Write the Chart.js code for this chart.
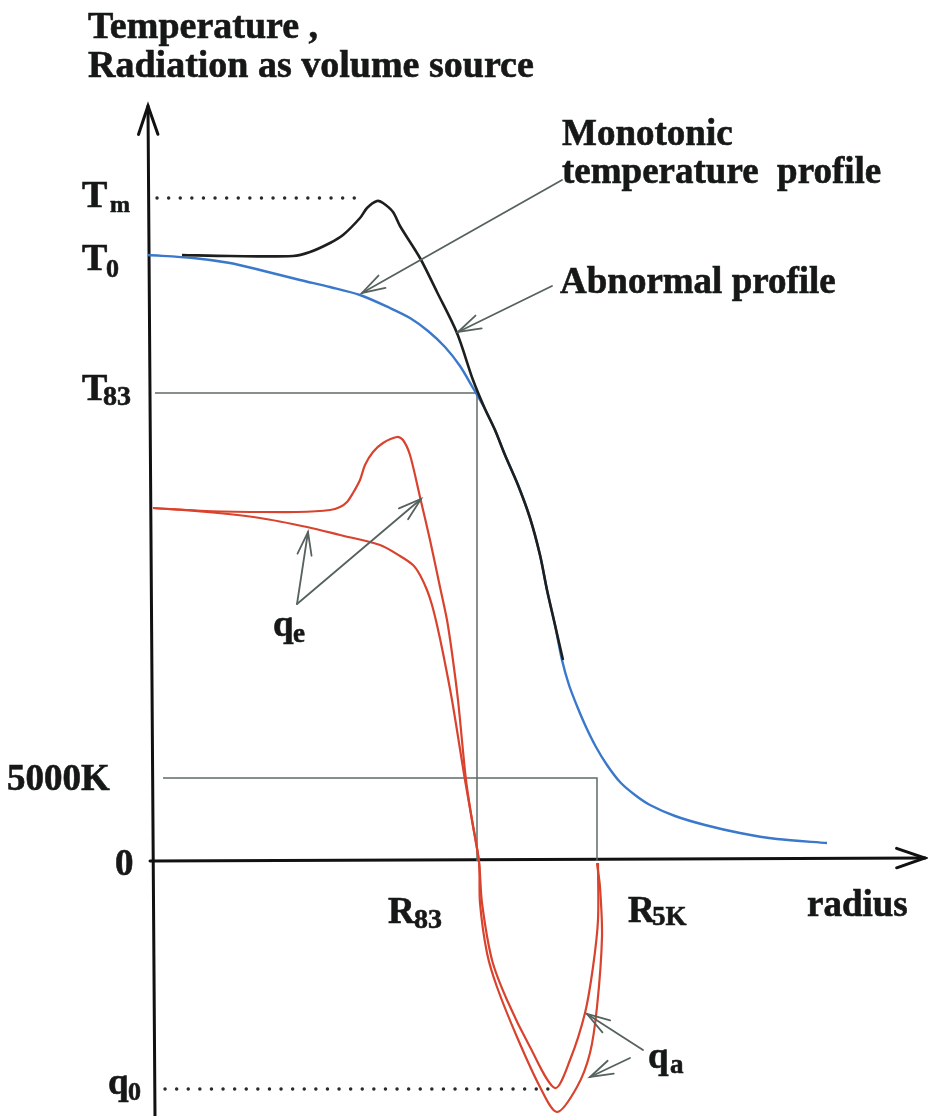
<!DOCTYPE html>
<html>
<head>
<meta charset="utf-8">
<script src="https://cdn.jsdelivr.net/npm/chart.js@4.4.1/dist/chart.umd.min.js"></script>
<style>
  html, body { margin: 0; padding: 0; background: #fff; }
  #wrap { width: 928px; height: 1116px; }
</style>
</head>
<body>
<div id="wrap"><canvas id="myChart" width="928" height="1116"></canvas></div>
<script>
"use strict";

// levels on the vertical axis (sketch units)
const T_M = 663;
const T_0 = 606;
const T_83 = 468;
const T_5K = 83;
const Q_0 = -228;

// radii on the horizontal axis
const R_83 = 327;
const R_5K = 447;

// curves, [radius, value]
const monotonicT = [
  [-2, 606], [43, 603], [80, 598], [110, 591], [150, 581], [180, 574],
  [210, 566], [240, 553], [260, 543], [278, 530], [295, 514], [310, 495],
  [323, 473], [335, 452], [345, 431], [355, 406], [368, 376], [380, 343],
  [390, 306], [397, 271], [405, 236], [412, 201], [419, 176], [427, 155],
  [436, 134], [446, 114], [457, 96], [470, 79], [485, 66], [500, 56],
  [525, 45], [555, 36], [590, 28], [627, 22], [677, 18]
];

const abnormalT = [
  [32, 606], [80, 605], [143, 605], [160, 609], [180, 618], [193, 626],
  [210, 643], [217, 653], [227, 660], [233, 658], [243, 649], [250, 635],
  [270, 603], [287, 569], [307, 528], [323, 481], [335, 452], [345, 431],
  [355, 406], [368, 376], [380, 343], [390, 306], [397, 271], [405, 236],
  [413, 201]
];

const qeAbnormal = [
  [3, 353], [57, 350], [110, 349], [147, 349], [180, 351], [190, 354],
  [197, 359], [203, 368], [210, 381], [215, 396], [223, 409], [233, 418],
  [247, 424], [253, 421], [260, 406], [270, 364], [280, 321], [290, 274],
  [297, 241], [302, 208], [308, 161], [316, 81], [322, 41], [329, -1],
  [332, -42], [342, -99], [357, -139], [380, -186], [405, -227],
  [420, -199], [435, -152], [443, -106], [448, -59], [448, -2]
];

const qeMonotonic = [
  [3, 353], [57, 349], [110, 343], [157, 334], [190, 326], [230, 316],
  [250, 305], [263, 296], [270, 286], [277, 271], [282, 256], [287, 236],
  [293, 208], [302, 161], [315, 81], [322, 41], [329, -1], [330, -42],
  [337, -92], [347, -126], [367, -176], [390, -226], [407, -251],
  [427, -226], [440, -192], [447, -146], [452, -76], [450, -26], [447, -2]
];

// pointer arrows: [fromX, fromY, toX, toY]
const pointers = [
  [412, 681, 212, 568],
  [402, 575, 308, 529],
  [147, 257, 158, 329],
  [147, 257, 271, 362],
  [493, -189, 437, -153],
  [480, -197, 440, -216]
];

// text: [text, x, y, size]
const labels = [
  ["Temperature ,", -62, 823, 38],
  ["Radiation as volume source", -62, 784, 38],
  ["T", -68, 654, 38], ["m", -40, 649, 24],
  ["T", -68, 591, 38], ["0", -44, 584, 26],
  ["T", -68, 461, 38], ["83", -47, 456, 28],
  ["5000K", -143, 71, 37],
  ["0", -35, -14, 37],
  ["q", -42, -233, 37], ["0", -22, -239, 26],
  ["R", 238, -62, 37], ["83", 264, -67, 28],
  ["R", 478, -61, 37], ["5K", 502, -64, 27],
  ["radius", 657, -55, 37],
  ["q", 123, 225, 37], ["e", 143, 219, 27],
  ["q", 498, -207, 37], ["a", 520, -212, 27],
  ["Monotonic", 412, 716, 37],
  ["temperature  profile", 412, 678, 37],
  ["Abnormal profile", 410, 568, 37]
];

const X_RANGE = [-150, 778];
const Y_RANGE = [-255, 861];

const toXY = (arr) => arr.map((p) => ({ x: p[0], y: p[1] }));

function line(data, color, width, extra) {
  return Object.assign({
    type: "scatter",
    data: toXY(data),
    showLine: true,
    borderColor: color,
    borderWidth: width,
    pointRadius: 0,
    tension: 0.3,
    fill: false
  }, extra || {});
}

function arrowHead(ctx, x0, y0, x1, y1, len, spread) {
  const a = Math.atan2(y1 - y0, x1 - x0);
  ctx.beginPath();
  ctx.moveTo(x1 - len * Math.cos(a - spread), y1 - len * Math.sin(a - spread));
  ctx.lineTo(x1, y1);
  ctx.lineTo(x1 - len * Math.cos(a + spread), y1 - len * Math.sin(a + spread));
  ctx.stroke();
}

const sketchPlugin = {
  id: "sketch",
  beforeDatasetsDraw(chart) {
    const ctx = chart.ctx;
    const sx = chart.scales.x;
    const sy = chart.scales.y;
    const px = (v) => sx.getPixelForValue(v);
    const py = (v) => sy.getPixelForValue(v);

    ctx.save();
    ctx.strokeStyle = "#111";
    ctx.lineWidth = 3;
    ctx.lineCap = "round";
    // vertical axis
    ctx.beginPath();
    ctx.moveTo(px(-2), py(755));
    ctx.lineTo(px(5), py(-255));
    ctx.stroke();
    arrowHead(ctx, px(5), py(-255), px(-2), py(755), 30, 0.33);
    // horizontal axis
    ctx.beginPath();
    ctx.moveTo(px(0), py(0));
    ctx.lineTo(px(775), py(3));
    ctx.stroke();
    arrowHead(ctx, px(0), py(0), px(775), py(3), 30, 0.33);
    ctx.restore();
  },
  afterDatasetsDraw(chart) {
    const ctx = chart.ctx;
    const sx = chart.scales.x;
    const sy = chart.scales.y;
    const px = (v) => sx.getPixelForValue(v);
    const py = (v) => sy.getPixelForValue(v);

    ctx.save();
    ctx.strokeStyle = "#56625d";
    ctx.lineWidth = 1.8;
    ctx.lineCap = "round";
    for (const p of pointers) {
      ctx.beginPath();
      ctx.moveTo(px(p[0]), py(p[1]));
      ctx.lineTo(px(p[2]), py(p[3]));
      ctx.stroke();
      arrowHead(ctx, px(p[0]), py(p[1]), px(p[2]), py(p[3]), 24, 0.3);
    }

    ctx.fillStyle = "#161818";
    ctx.strokeStyle = "#161818";
    ctx.lineWidth = 0.6;
    ctx.textBaseline = "alphabetic";
    ctx.textAlign = "left";
    for (const l of labels) {
      ctx.font = "bold " + l[3] + "px 'Liberation Serif', 'Times New Roman', serif";
      ctx.fillText(l[0], px(l[1]), py(l[2]));
      ctx.strokeText(l[0], px(l[1]), py(l[2]));
    }
    ctx.restore();
  }
};

const ctx = document.getElementById("myChart").getContext("2d");

new Chart(ctx, {
  type: "scatter",
  data: {
    datasets: [
      line(abnormalT, "#1c1f1e", 2.6),
      line(monotonicT, "#3a78cc", 2.4),
      line(qeAbnormal, "#d9432e", 2.2),
      line(qeMonotonic, "#d9432e", 2.2),
      line([[5, T_83], [R_83, T_83], [R_83, 0]], "#5f6b66", 1.5, { tension: 0 }),
      line([[13, T_5K], [R_5K, T_5K], [R_5K, 0]], "#5f6b66", 1.5, { tension: 0 }),
      line([[7, T_M], [213, T_M]], "#2a2a2a", 3.4, { tension: 0, borderDash: [0.1, 11.5], borderCapStyle: "round" }),
      line([[15, Q_0], [405, Q_0]], "#2a2a2a", 3.4, { tension: 0, borderDash: [0.1, 11.5], borderCapStyle: "round" })
    ]
  },
  options: {
    responsive: false,
    animation: false,
    layout: { padding: 0 },
    scales: {
      x: { type: "linear", display: false, min: X_RANGE[0], max: X_RANGE[1] },
      y: { type: "linear", display: false, min: Y_RANGE[0], max: Y_RANGE[1] }
    },
    plugins: {
      legend: { display: false },
      tooltip: { enabled: false }
    }
  },
  plugins: [sketchPlugin]
});
</script>
</body>
</html>
